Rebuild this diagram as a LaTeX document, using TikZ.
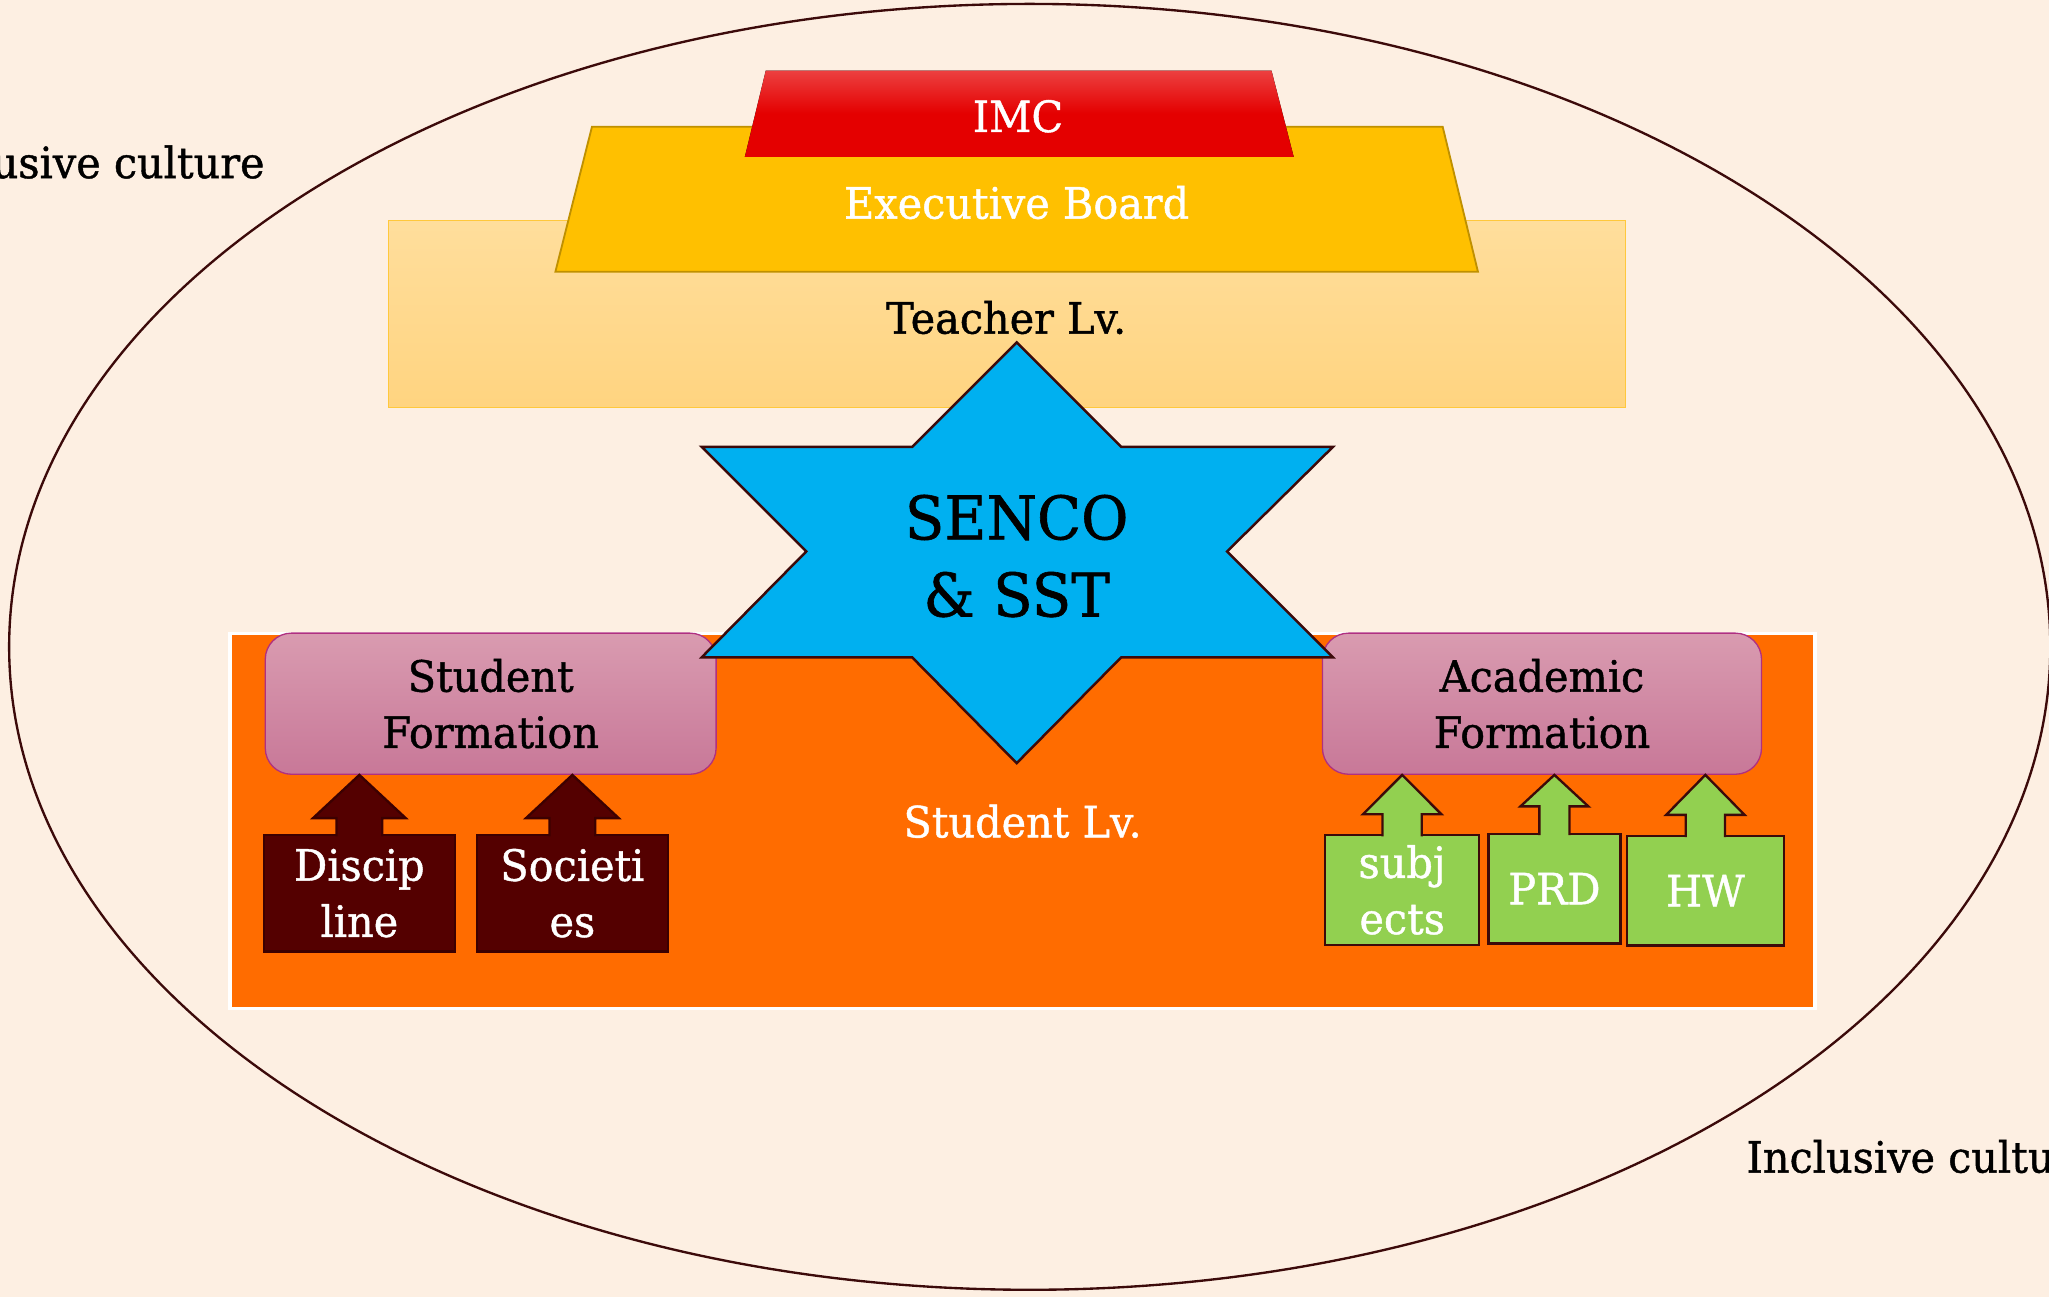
\documentclass[tikz,border=0pt]{standalone}
\usepackage{fontspec}
\setmainfont{DejaVu Serif}[FakeStretch=0.96,FakeBold=1]
\usepackage{tikz}
\usetikzlibrary{calc,positioning}

\definecolor{cream}{RGB}{253,239,226}
\definecolor{rimline}{RGB}{60,10,10}
\definecolor{teachtop}{RGB}{255,222,156}
\definecolor{teachbot}{RGB}{255,212,128}
\definecolor{teachrim}{RGB}{255,200,60}
\definecolor{execfill}{RGB}{255,192,0}
\definecolor{execrim}{RGB}{191,144,0}
\definecolor{imctop}{RGB}{236,64,64}
\definecolor{imcbot}{RGB}{228,0,0}
\definecolor{studorange}{RGB}{255,108,0}
\definecolor{sencoblue}{RGB}{0,176,240}
\definecolor{pinktop}{RGB}{217,155,176}
\definecolor{pinkbot}{RGB}{200,120,152}
\definecolor{pinkrim}{RGB}{176,48,128}
\definecolor{maroonfill}{RGB}{84,0,0}
\definecolor{maroonrim}{RGB}{60,0,0}
\definecolor{leafgreen}{RGB}{146,208,80}

\begin{document}
\begin{tikzpicture}[x=1pt, y=-1pt, font=\fontsize{33}{43}\selectfont,
    formation/.style={draw=pinkrim, line width=1pt, rounded corners=20pt, top color=pinktop, bottom color=pinkbot, minimum width=345pt, minimum height=108pt, align=center, inner sep=0pt},
    maroonbox/.style={draw=maroonrim, line width=1.8pt, fill=maroonfill, text=white, minimum width=146pt, minimum height=89pt, align=center, inner sep=0pt},
    greenbox/.style={draw=rimline, line width=1.8pt, fill=leafgreen, text=white, minimum height=84pt, align=center, inner sep=0pt},
    maroonarrow/.style={draw=maroonrim, line width=1.8pt, fill=maroonfill, line join=miter},
    greenarrow/.style={draw=rimline, line width=1.8pt, fill=leafgreen, line join=miter}]
            \useasboundingbox (0,0) rectangle (1568,992.5);
            \fill[cream] (0,0) rectangle (1568,992.5);
            \draw[rimline, line width=1.8pt] (788,495) ellipse [x radius=781, y radius=492];

            \node[anchor=east] (cultureleft) at (206,124){Inclusive culture};
            \node[anchor=west] (cultureright) at (1333,885){Inclusive culture};

            \node[draw=teachrim, line width=0.8pt, top color=teachtop, bottom color=teachbot, minimum width=947pt, minimum height=143pt, inner sep=0pt] (teacher) at (770.5,240.5){};
            \draw[draw=execrim, line width=1.4pt, fill=execfill] (425,208) -- (453,97) -- (1104,97) -- (1131,208) -- cycle;
            \fill[top color=imctop, bottom color=imcbot, middle color=imcbot] (570,120) -- (586,54) -- (973,54) -- (990,120) -- cycle;
            \node (teacherlbl) at (770,243){Teacher Lv.};
            \node[text=white] (board) at (778,155){Executive Board};
            \node[text=white] (imc) at (779,89){IMC};

            \node[draw=white, line width=2.5pt, fill=studorange, text=white, minimum width=1213pt, minimum height=287pt, inner sep=0pt] (student) at (782.5,628.5){Student Lv.};

            \node[formation] (sform) at (375.5,538.5){Student\\Formation};
            \node[formation, minimum width=336pt] (aform) at (1180,538.5){Academic\\Formation};

            \draw[draw=rimline, line width=1.9pt, fill=sencoblue, line join=miter]
            (778,262) -- (858,342) -- (1020,342) -- (939,422) -- (1020,503) -- (858,503) --
            (778,584) -- (698,503) -- (537,503) -- (617,422) -- (537,342) -- (698,342) -- cycle;
            \node[font=\fontsize{46}{59}\selectfont, align=center] (senco) at (778,425.5){SENCO\\\& SST};

            \node[maroonbox] (disc) at (275,683.5){Discip\\line};
            \node[maroonbox] (soc) at (438,683.5){Societi\\es};
            \node[greenbox, minimum width=118pt] (subj) at (1073,681){subj\\ects};
            \node[greenbox, minimum width=101pt] (prd) at (1189.5,680){PRD};
            \node[greenbox, minimum width=120pt] (hw) at (1305,681.5){HW};

            \draw[maroonarrow] ([shift={(-17.5pt,-2pt)}]disc.north) -- ++(0,-14) -- ++(-18,0) -- (disc.north |- sform.south)
            -- ([shift={(35.5pt,12pt)}]disc.north) -- ++(-18,0) -- ([shift={(17.5pt,-2pt)}]disc.north);
            \draw[maroonarrow] ([shift={(-17.5pt,-2pt)}]soc.north) -- ++(0,-14) -- ++(-18,0) -- (soc.north |- sform.south)
            -- ([shift={(35.5pt,12pt)}]soc.north) -- ++(-18,0) -- ([shift={(17.5pt,-2pt)}]soc.north);
            \draw[greenarrow] ([shift={(-15pt,-2pt)}]subj.north) -- ++(0,-17) -- ++(-15,0) -- (subj.north |- aform.south)
            -- ([shift={(30pt,15pt)}]subj.north) -- ++(-15,0) -- ([shift={(15pt,-2pt)}]subj.north);
            \draw[greenarrow] ([shift={(-11.5pt,-2pt)}]prd.north) -- ++(0,-22) -- ++(-14.5,0) -- (prd.north |- aform.south)
            -- ([shift={(26pt,20pt)}]prd.north) -- ++(-14.5,0) -- ([shift={(11.5pt,-2pt)}]prd.north);
            \draw[greenarrow] ([shift={(-15pt,-2pt)}]hw.north) -- ++(0,-17) -- ++(-15,0) -- (hw.north |- aform.south)
            -- ([shift={(30pt,15pt)}]hw.north) -- ++(-15,0) -- ([shift={(15pt,-2pt)}]hw.north);
\end{tikzpicture}
\end{document}
